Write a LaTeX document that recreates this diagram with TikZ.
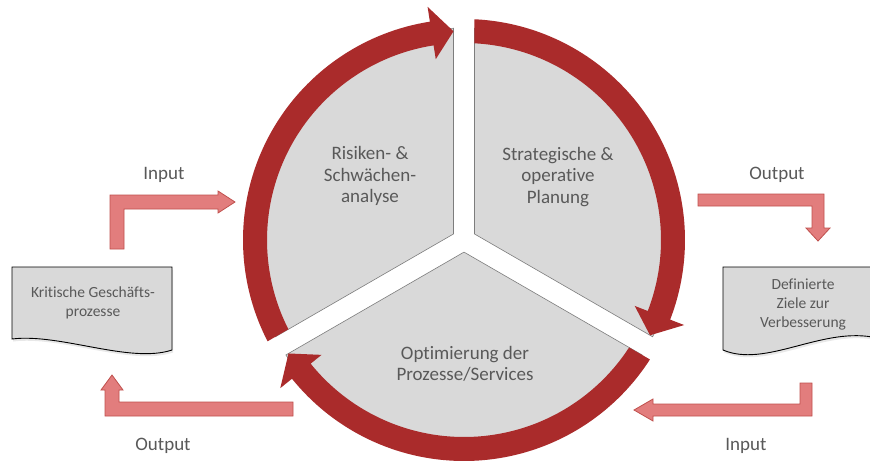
\documentclass[tikz,border=0pt]{standalone}
\usepackage{fontspec}
\setmainfont{Carlito}[Ligatures=CommonOff]
\usetikzlibrary{shadows}
\definecolor{ringred}{RGB}{170,43,43}
\definecolor{piegray}{RGB}{217,217,217}
\definecolor{pieedge}{RGB}{125,125,125}
\definecolor{arrowfill}{RGB}{226,125,125}
\definecolor{arrowdraw}{RGB}{192,80,77}
\definecolor{txtgray}{RGB}{89,89,89}
\begin{document}
\begin{tikzpicture}[x=1pt,y=1pt,
  pie/.style={fill=piegray,draw=pieedge,line width=0.6pt},
  ringseg/.style={fill=ringred},
  flow/.style={fill=arrowfill,draw=arrowdraw,line width=0.8pt,line join=miter},
  docshape/.style={fill=piegray,draw=black,line width=0.9pt,
    drop shadow={opacity=0.18,shadow xshift=1pt,shadow yshift=-2.5pt}},
  pietext/.style={text=txtgray,align=center,font=\fontsize{19}{21.5}\selectfont,inner sep=0pt},
  doctext/.style={text=txtgray,align=center,font=\fontsize{15.5}{19}\selectfont,inner sep=0pt},
  lbl/.style={text=txtgray,font=\fontsize{19}{22}\selectfont,anchor=base,inner sep=0pt}]
\useasboundingbox (0,0) rectangle (870,-461);
\fill[white] (0,0) rectangle (870,-461);

\coordinate (C) at (464,-240);
\begin{scope}[shift={(C)}]
  % pies
  \path[pie] (150:12.1pt) -- (92.84:212pt) arc[start angle=92.84,end angle=207.16,radius=212pt] -- cycle;
  \path[pie] (30:12.1pt) -- (-27.16:212pt) arc[start angle=-27.16,end angle=87.16,radius=212pt] -- cycle;
  \path[pie] (270:12.1pt) -- (212.84:212pt) arc[start angle=212.84,end angle=327.16,radius=212pt] -- cycle;
  % ring segments
  \fill[ringseg] (207.28:221pt) arc[start angle=207.28,end angle=98.88,radius=221pt]
    -- (98.88:236pt) -- (92.88:209pt) -- (98.88:183pt) -- (98.88:197pt)
    arc[start angle=98.88,end angle=206.95,radius=197pt] -- cycle;
  \fill[ringseg] (87.28:221pt) arc[start angle=87.28,end angle=-21.12,radius=221pt]
    -- (-21.12:236pt) -- (-27.12:209pt) -- (-21.12:183pt) -- (-21.12:197pt)
    arc[start angle=-21.12,end angle=86.95,radius=197pt] -- cycle;
  \fill[ringseg] (327.28:221pt) arc[start angle=327.28,end angle=218.88,radius=221pt]
    -- (218.88:236pt) -- (212.88:209pt) -- (218.88:183pt) -- (218.88:197pt)
    arc[start angle=218.88,end angle=326.95,radius=197pt] -- cycle;
\end{scope}

% pie texts
\node[pietext] (risk) at (370,-176) {Risiken- \&\\Schwächen-\\analyse};
\node[pietext] (plan) at (558,-177) {Strategische \&\\operative\\Planung};
\node[pietext] (opt) at (465,-364) {Optimierung der\\Prozesse/Services};

% documents
\path[docshape] (12,-267) -- (172,-267) -- (172,-350)
  .. controls (130,-364) and (60,-333) .. (12,-339) -- cycle;
\path[docshape] (723,-267) -- (872,-267) -- (872,-337)
  .. controls (820,-328) and (765,-368) .. (723,-350) -- cycle;
\node[doctext] (krit) at (93,-303) {Kritische Geschäfts-\\prozesse};
\node[doctext] (ziele) at (803,-304) {Definierte\\Ziele zur\\Verbesserung};

% bent arrows
\path[flow] (110,-249) -- (110,-195) -- (218,-195) -- (218,-191) -- (235,-202)
  -- (218,-213) -- (218,-209) -- (124,-209) -- (124,-249) -- cycle;
\path[flow] (293,-402) -- (119,-402) -- (119,-390) -- (123,-390) -- (112,-375)
  -- (101,-390) -- (105,-390) -- (105,-416) -- (293,-416) -- cycle;
\path[flow] (698,-194) -- (824,-194) -- (824,-228) -- (830,-228) -- (818,-241)
  -- (806,-228) -- (812,-228) -- (812,-206) -- (698,-206) -- cycle;
\path[flow] (800,-383) -- (812,-383) -- (812,-416) -- (653,-416) -- (653,-421)
  -- (634,-410) -- (653,-399) -- (653,-404) -- (800,-404) -- cycle;

% labels
\node[lbl] (in1) at (164,-179.3) {Input};
\node[lbl] (out1) at (163,-450) {Output};
\node[lbl] (out2) at (777,-179.3) {Output};
\node[lbl] (in2) at (746,-450) {Input};
\end{tikzpicture}
\end{document}
